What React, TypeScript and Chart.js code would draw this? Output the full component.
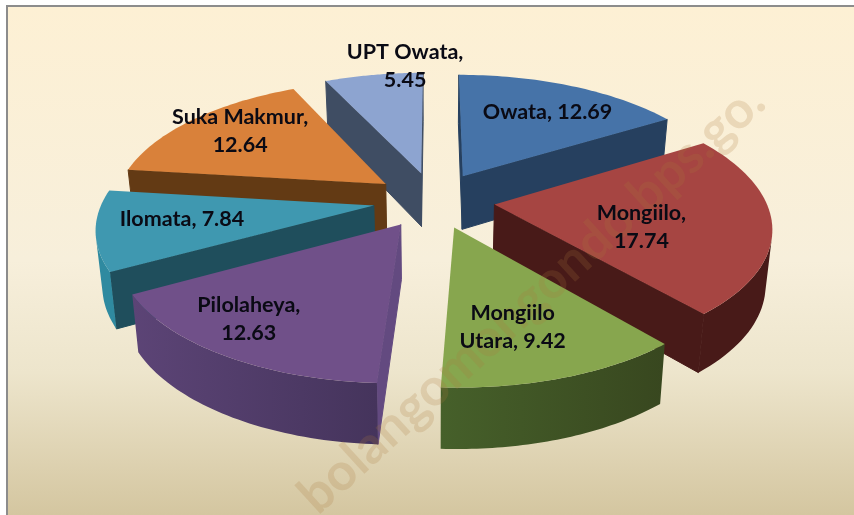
import React, { useEffect, useRef } from "react";
import { Chart, registerables } from "chart.js";

Chart.register(...registerables);

const categories = ["Owata", "Mongiilo", "Mongiilo Utara", "Pilolaheya", "Ilomata", "Suka Makmur", "UPT Owata"];
const values = [12.69, 17.74, 9.42, 12.63, 7.84, 12.64, 5.45];
const labelLines = [
  ["Owata, 12.69"],
  ["Mongiilo,", "17.74"],
  ["Mongiilo", "Utara, 9.42"],
  ["Pilolaheya,", "12.63"],
  ["Ilomata, 7.84"],
  ["Suka Makmur,", "12.64"],
  ["UPT Owata,", "5.45"],
];
const topColors = ["#4673a8", "#a64542", "#87a64e", "#705089", "#3f98b0", "#d9813a", "#8da4d0"];
const rimStart = ["#2a4568", "#481a18", "#38471f", "#45345c", "#2f8aa0", "#633a14", "#45546c"];
const rimEnd = ["#26405f", "#481a18", "#46602a", "#5c4476", "#2f8aa0", "#633a14", "#45546c"];
const cutColors = ["#26405f", "#481a18", "#3a4a20", "#634a80", "#1f4e5c", "#633a14", "#3f4d63"];
const labelNudge = [[16, -7], [-18, 11], [-3, 16], [-52, 21], [-27, -1], [-26, -13], [14, -45]];

const CX = 434, CY = 200, RX = 271, K = 0.46, P = 0.16, DEPTH = 54, SHRINK = 0.02;

type Pt = [number, number];
function project(u: number, v: number, z: number): Pt {
  const s = 1 / (1 + P * v);
  return [CX + RX * u * s * (1 - SHRINK * z), CY - RX * K * v * s + DEPTH * z * Math.pow(s, 0.6)];
}
function fillPoly(ctx: CanvasRenderingContext2D, pts: Pt[], color: any, seal = 0) {
  ctx.beginPath();
  pts.forEach((p, i) => (i ? ctx.lineTo(p[0], p[1]) : ctx.moveTo(p[0], p[1])));
  ctx.closePath();
  ctx.fillStyle = color;
  ctx.fill();
  if (seal) {
    ctx.strokeStyle = color;
    ctx.lineWidth = seal;
    ctx.stroke();
  }
}
function area(p: Pt[]) {
  let a = 0;
  p.forEach((q, i) => {
    const r = p[(i + 1) % p.length];
    a += q[0] * r[1] - r[0] * q[1];
  });
  return a;
}

const backdrop = {
  id: "backdrop",
  beforeDraw(chart: any) {
    const { ctx, width, height } = chart;
    ctx.save();
    ctx.fillStyle = "#ffffff";
    ctx.fillRect(0, 0, width, height);
    const g = ctx.createLinearGradient(0, 6, 0, height);
    g.addColorStop(0, "#fdf0d4");
    g.addColorStop(0.5, "#f7efdb");
    g.addColorStop(0.72, "#ede5cc");
    g.addColorStop(1, "#d4c6a0");
    ctx.fillStyle = g;
    ctx.fillRect(7, 6, width - 7, height - 6);
    ctx.fillStyle = "#8c8c8c";
    ctx.fillRect(6, 5, width - 6, 2);
    ctx.fillRect(6, 5, 2, height - 5);
    ctx.restore();
  },
};

const pie3d = {
  id: "pie3d",
  beforeDatasetsDraw(chart: any) {
    const { ctx } = chart;
    const arcs = chart.getDatasetMeta(0).data;
    const order = arcs
      .map((a: any, i: number) => ({ a, i, mid: Math.cos((a.startAngle + a.endAngle) / 2 + Math.PI / 2) }))
      .sort((x: any, y: any) => y.mid - x.mid);
    ctx.save();
    for (const { a, i } of order) {
      const t0 = a.startAngle + Math.PI / 2;
      const t1 = a.endAngle + Math.PI / 2;
      const tm = (t0 + t1) / 2;
      const off = a.options.offset / a.outerRadius;
      const ox = off * Math.sin(tm);
      const oy = off * Math.cos(tm);
      const N = 48;
      const P3 = (t: number, r: number, z: number) => project(ox + r * Math.sin(t), oy + r * Math.cos(t), z);
      const topPts: Pt[] = [P3(0, 0, 0)];
      for (let k = 0; k <= N; k++) topPts.push(P3(t0 + ((t1 - t0) * k) / N, 1, 0));
      const faces: Pt[][] = [
        [P3(0, 0, 0), P3(t0, 1, 0), P3(t0, 1, 1), P3(0, 0, 1)],
        [P3(t1, 1, 0), P3(0, 0, 0), P3(0, 0, 1), P3(t1, 1, 1)],
      ];
      for (const f of faces) if (area(f) < 0) fillPoly(ctx, f, cutColors[i], 1);
      // visible part of the rim, filled as one path so that no seams show
      const xa = P3(t0, 1, 0)[0];
      const xb = P3(t1, 1, 0)[0];
      const grad = ctx.createLinearGradient(xa, 0, xb === xa ? xa + 1 : xb, 0);
      grad.addColorStop(0, rimStart[i]);
      grad.addColorStop(1, rimEnd[i]);
      ctx.beginPath();
      for (let k = 0; k < N; k++) {
        const ta = t0 + ((t1 - t0) * k) / N;
        const tb = t0 + ((t1 - t0) * (k + 1)) / N;
        const q: Pt[] = [P3(ta, 1, 0), P3(tb, 1, 0), P3(tb, 1, 1), P3(ta, 1, 1)];
        if (area(q) < 0) {
          q.forEach((p, n) => (n ? ctx.lineTo(p[0], p[1]) : ctx.moveTo(p[0], p[1])));
          ctx.closePath();
        }
      }
      ctx.fillStyle = grad;
      ctx.fill();
      fillPoly(ctx, topPts, a.options.backgroundColor);
    }
    // watermark
    ctx.save();
    ctx.translate(318, 516);
    ctx.rotate(-Math.atan2(410, 450));
    ctx.font = "bold 52px Lato";
    ctx.fillStyle = "rgba(170,120,60,0.2)";
    ctx.textAlign = "left";
    ctx.textBaseline = "alphabetic";
    ctx.fillText("bolangomongondo.bps.go.", 0, 0);
    ctx.restore();
    // labels
    ctx.font = "bold 21.5px Lato";
    ctx.fillStyle = "#0a0a14";
    ctx.textAlign = "center";
    ctx.textBaseline = "middle";
    arcs.forEach((a: any, i: number) => {
      const tm = (a.startAngle + a.endAngle) / 2 + Math.PI / 2;
      const off = a.options.offset / a.outerRadius;
      const [x, y] = project((off + 0.6) * Math.sin(tm), (off + 0.6) * Math.cos(tm), 0);
      const lines = labelLines[i];
      lines.forEach((line, j) => {
        ctx.fillText(line, x + labelNudge[i][0], y + labelNudge[i][1] + (j - (lines.length - 1) / 2) * 28);
      });
    });
    ctx.restore();
    return false;
  },
};

export default function App() {
  const ref = useRef<HTMLCanvasElement>(null);
  useEffect(() => {
    document.body.style.margin = "0";
    const chart = new Chart(ref.current!, {
      type: "pie",
      data: {
        labels: categories,
        datasets: [{ data: values, backgroundColor: topColors, borderWidth: 0, offset: 52 }],
      },
      options: {
        responsive: false,
        animation: false,
        plugins: { legend: { display: false }, tooltip: { enabled: false } },
      },
      plugins: [backdrop, pie3d],
    } as any);
    return () => chart.destroy();
  }, []);
  return <canvas ref={ref} width={854} height={515} style={{ display: "block" }} />;
}
